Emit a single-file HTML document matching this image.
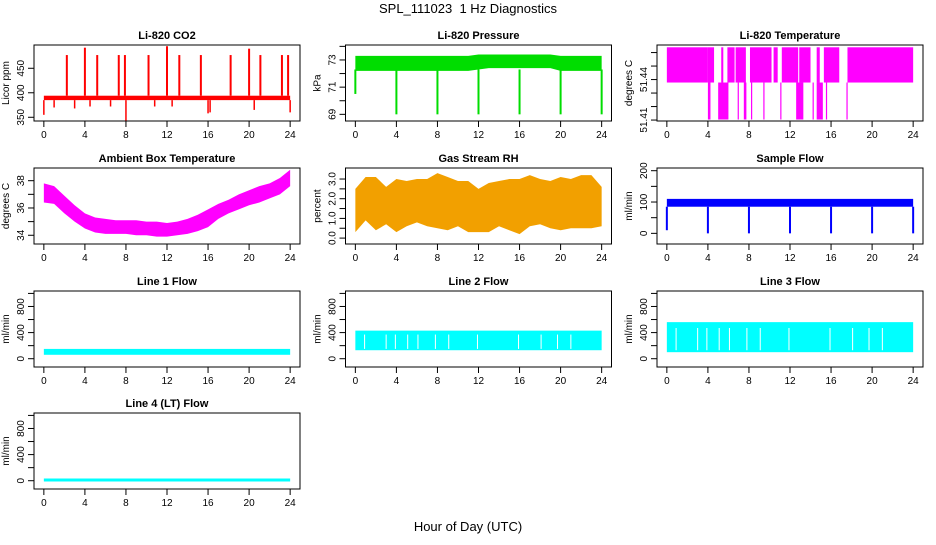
<!DOCTYPE html>
<html><head><meta charset="utf-8"><style>
body{margin:0;background:#fff}
svg text{font-family:"Liberation Sans",sans-serif;fill:#000}
</style></head><body>
<svg id="c" width="936" height="540" viewBox="0 0 936 540" xmlns="http://www.w3.org/2000/svg">
<text x="468" y="13" font-size="13" text-anchor="middle">SPL_111023&#160; 1 Hz Diagnostics</text>
<text x="468" y="531" font-size="13" text-anchor="middle">Hour of Day (UTC)</text>
</svg>
<script>
// ---- data ----
const hours=[0,1,2,3,4,5,6,7,8,9,10,11,12,13,14,15,16,17,18,19,20,21,22,23,24];
const xTicks=[0,4,8,12,16,20,24];
const co2Lo=385, co2Hi=394;
const co2SpikeT=[2.24,4.0,5.2,7.3,7.9,10.2,12.0,13.2,15.3,18.2,20.0,21.1,23.2,23.8];
const co2SpikeV=[477,492,477,477,477,477,495,477,477,477,490,477,477,477];
const co2DipT=[0,1.0,3.0,4.5,6.5,8.0,10.8,12.5,16.0,16.2,20.5,24];
const co2DipV=[355,370,368,372,372,343,372,372,358,360,365,360];
const presLo=[72.2,72.2,72.2,72.2,72.2,72.2,72.2,72.2,72.2,72.2,72.2,72.2,72.3,72.4,72.4,72.4,72.4,72.4,72.4,72.4,72.2,72.2,72.2,72.2,72.2];
const presHi=[73.3,73.3,73.3,73.3,73.3,73.3,73.3,73.3,73.3,73.3,73.3,73.3,73.4,73.4,73.4,73.4,73.4,73.4,73.4,73.4,73.3,73.3,73.3,73.3,73.3];
const presDipT=[0,4,8,12,16,20,24];
const presDipV=[70.5,69,69,69,69,69,69];
const tHigh=51.4639, tMid=51.4378, tLow=51.4104;
const tBlockStart=[0,4.0,5.3,5.9,6.7,8.1,10.4,11.2,12.9,14.6,15.3,17.6];
const tBlockEnd=[4.0,4.6,5.5,6.6,7.7,10.2,10.8,12.8,14.0,14.9,16.8,24];
const tDownStart=[4.0,5.0,6.9,7.5,8.2,9.4,11.05,12.6,14.2,14.6,15.5,17.5];
const tDownEnd=[4.25,6.0,7.0,7.75,8.3,9.5,11.15,13.3,14.3,15.2,15.6,17.55];
const ambLo=[36.4,36.3,35.6,35.0,34.5,34.2,34.1,34.1,34.1,34.0,34.0,33.9,33.9,34.0,34.1,34.3,34.6,35.2,35.6,35.9,36.2,36.4,36.7,37.0,37.6];
const ambHi=[37.8,37.6,36.9,36.2,35.6,35.3,35.2,35.1,35.1,35.1,35.0,35.0,34.9,35.0,35.2,35.5,35.9,36.3,36.6,37.0,37.3,37.6,37.8,38.2,38.8];
const rhLo=[0.3,0.9,0.4,0.7,0.3,0.6,0.8,0.6,0.5,0.4,0.6,0.3,0.3,0.3,0.6,0.4,0.2,0.6,0.7,0.5,0.4,0.5,0.5,0.5,0.6];
const rhHi=[2.5,3.1,3.1,2.6,3.0,2.9,3.0,3.0,3.3,3.1,2.9,2.9,2.5,2.8,2.9,3.0,3.0,3.2,3.0,2.9,3.1,3.0,3.2,3.2,2.6];
const sfLo=85, sfHi=110;
const sfDipT=[0,4,8,12,16,20,24];
const sfDipV=[10,0,0,0,0,0,0];
const l1Lo=60, l1Hi=150;
const l2Lo=130, l2Hi=430;
const l3Lo=100, l3Hi=560;
const gapT=[0.9,3.0,3.9,5.1,6.1,7.8,9.1,11.9,15.9,18.1,19.7,21.0];
const l4Val=10;

// ---- layout ----
const X0=[34,345.5,657], Y0=[45,168,291,413], W=266, H=76;
const S=document.getElementById('c'), NS='http://www.w3.org/2000/svg';
function mk(tag,at,parent){const e=document.createElementNS(NS,tag);for(const k in at)e.setAttribute(k,at[k]);(parent||S).appendChild(e);return e;}
function panel(col,row,title,ylab,dom,ticks,labels,name){
  const g=mk('g',{});
  
  
  const L=X0[col],T=Y0[row];
  const xs=t=>L+W*(t+0.96)/25.92;
  const ys=v=>T+H-(v-dom[0])/(dom[1]-dom[0])*H;
  const plot=mk('g',{},g);
  
  
  const box=mk('rect',{x:L,y:T,width:W,height:H,fill:'none',stroke:'#000','stroke-width':1},g);
  
  
  const tt=mk('text',{x:L+W/2,y:T-6,'font-size':11,'font-weight':'bold','text-anchor':'middle'},g);tt.textContent=title;
  
  
  mk('line',{x1:xs(0),x2:xs(24),y1:T+H,y2:T+H,stroke:'#000'},g);
  xTicks.forEach(t=>{mk('line',{x1:xs(t),x2:xs(t),y1:T+H,y2:T+H+6,stroke:'#000'},g);
    const tx=mk('text',{x:xs(t),y:T+H+17,'font-size':10,'text-anchor':'middle'},g);tx.textContent=t;
    
    });
  ticks.forEach(v=>{mk('line',{x1:L-6,x2:L,y1:ys(v),y2:ys(v),stroke:'#000'},g);});
  mk('line',{x1:L,x2:L,y1:ys(ticks[0]),y2:ys(ticks[ticks.length-1]),stroke:'#000'},g);
  labels.forEach(v=>{const yy=ys(parseFloat(v));const tx=mk('text',{x:L-10,y:yy,'font-size':10,'text-anchor':'middle',transform:`rotate(-90 ${L-10} ${yy})`},g);tx.textContent=v;
    
    });
  const yl=mk('text',{x:L-25,y:T+H/2,'font-size':10,'text-anchor':'middle',transform:`rotate(-90 ${L-25} ${T+H/2})`},g);yl.textContent=ylab;
  
  
  return {xs,ys,g:plot};
}
function band(p,lo,hi,fill){
  let pts=hours.map((t,i)=>p.xs(t)+','+p.ys(hi[i]));
  pts=pts.concat(hours.slice().reverse().map((t,j)=>p.xs(t)+','+p.ys(lo[hours.length-1-j])));
  const e=mk('polygon',{points:pts.join(' '),fill},p.g);
  
  
}
function rectBand(p,lo,hi,fill){
  const e=mk('rect',{x:p.xs(0),y:p.ys(hi),width:p.xs(24)-p.xs(0),height:p.ys(lo)-p.ys(hi),fill},p.g);
  
  
}
function vlines(p,T,V,from,color,w){
  T.forEach((t,i)=>{const e=mk('line',{x1:p.xs(t),x2:p.xs(t),y1:p.ys(from),y2:p.ys(V[i]),stroke:color,'stroke-width':w},p.g);
    
    });
}

// CO2
let p=panel(0,0,'Li-820 CO2','Licor ppm',[342.4,497.5],[350,400,450],['350','400','450'],'co2');
rectBand(p,co2Lo,co2Hi,'#ff0000');
vlines(p,co2SpikeT,co2SpikeV,co2Hi,'#ff0000',2);
vlines(p,co2DipT,co2DipV,co2Lo,'#ff0000',1.5);
// Pressure
p=panel(1,0,'Li-820 Pressure','kPa',[68.51,74.1],[69,70,71,72,73,74],['69','71','73'],'pressure');
band(p,presLo,presHi,'#00dd00');
vlines(p,presDipT,presDipV,72.3,'#00dd00',2);
// Li-820 temp
p=panel(2,0,'Li-820 Temperature','degrees C',[51.4093,51.4656],[51.41,51.42,51.43,51.44,51.45,51.46],['51.41','51.44'],'licor-temp');
tBlockStart.forEach((s,i)=>{const e=mk('rect',{x:p.xs(s),y:p.ys(tHigh),width:Math.max(1,p.xs(tBlockEnd[i])-p.xs(s)),height:p.ys(tMid)-p.ys(tHigh),fill:'#ff00ff'},p.g);
  
  });
tDownStart.forEach((s,i)=>{const e=mk('rect',{x:p.xs(s),y:p.ys(tMid),width:Math.max(1.2,p.xs(tDownEnd[i])-p.xs(s)),height:p.ys(tLow)-p.ys(tMid),fill:'#ff00ff'},p.g);
  
  });
// Ambient
p=panel(0,1,'Ambient Box Temperature','degrees C',[33.36,38.93],[34,35,36,37,38],['34','36','38'],'ambient-temp');
band(p,ambLo,ambHi,'#ff00ff');
// RH
p=panel(1,1,'Gas Stream RH','percent',[-0.3,3.56],[0,0.5,1,1.5,2,2.5,3],['0.0','1.0','2.0','3.0'],'rh');
band(p,rhLo,rhHi,'#f2a000');
// Sample flow
p=panel(2,1,'Sample Flow','ml/min',[-34,208.6],[0,50,100,150,200],['0','100','200'],'sample-flow');
rectBand(p,sfLo,sfHi,'#0000ff');
vlines(p,sfDipT,sfDipV,sfLo,'#0000ff',2);
// Lines
const fd=[-127,1037], ft=[0,200,400,600,800,1000], fl=['0','400','800'];
p=panel(0,2,'Line 1 Flow','ml/min',fd,ft,fl,'line1-flow');
rectBand(p,l1Lo,l1Hi,'#00ffff');
p=panel(1,2,'Line 2 Flow','ml/min',fd,ft,fl,'line2-flow');
rectBand(p,l2Lo,l2Hi,'#00ffff');
gapT.forEach(t=>{const e=mk('line',{x1:p.xs(t),x2:p.xs(t),y1:p.ys(l2Lo+20),y2:p.ys(l2Hi-60),stroke:'#fff','stroke-width':1},p.g);
  
  });
p=panel(2,2,'Line 3 Flow','ml/min',fd,ft,fl,'line3-flow');
rectBand(p,l3Lo,l3Hi,'#00ffff');
gapT.forEach(t=>{const e=mk('line',{x1:p.xs(t),x2:p.xs(t),y1:p.ys(l3Lo+30),y2:p.ys(l3Hi-90),stroke:'#fff','stroke-width':1},p.g);
  
  });
p=panel(0,3,'Line 4 (LT) Flow','ml/min',fd,ft,fl,'line4-flow');
{const e=mk('line',{x1:p.xs(0),x2:p.xs(24),y1:p.ys(l4Val),y2:p.ys(l4Val),stroke:'#00ffff','stroke-width':3},p.g);

}
</script>
</body></html>
